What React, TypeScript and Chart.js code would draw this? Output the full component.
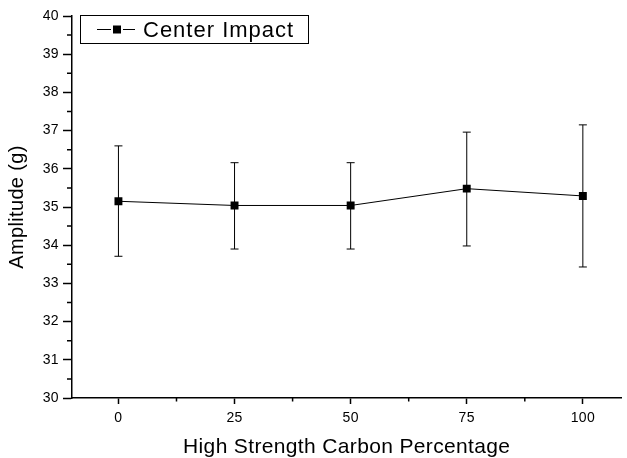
import React, { useEffect, useRef } from "react";
import { Chart, registerables } from "chart.js";

Chart.register(...registerables);

// ---- data ----
const SERIES_LABEL = "Center Impact";
const X_TITLE = "High Strength Carbon Percentage";
const Y_TITLE = "Amplitude (g)";
const carbonPct = [0, 25, 50, 75, 100];
const amplitude = [35.15, 35.04, 35.04, 35.48, 35.29];
const errLow = [33.71, 33.9, 33.9, 33.98, 33.43];
const errHigh = [36.6, 36.16, 36.16, 36.96, 37.15];
const xMajorTicks = [0, 25, 50, 75, 100];
const xMinorTicks = [12.5, 37.5, 62.5, 87.5];
const yMajorTicks = [30, 31, 32, 33, 34, 35, 36, 37, 38, 39, 40];
const yMinorTicks = [30.5, 31.5, 32.5, 33.5, 34.5, 35.5, 36.5, 37.5, 38.5, 39.5];
const X_MIN = -10;
const X_MAX = 108.3;
const Y_MIN = 30;
const Y_MAX = 40;

const FONT = "'Liberation Sans', Arial, Helvetica, sans-serif";

const decorPlugin = {
  id: "decor",
  beforeDraw(chart: any) {
    (chart.ctx as any).letterSpacing = "0.35px";
  },
  beforeDatasetsDraw(chart: any) {
    const ctx = chart.ctx;
    const xs = chart.scales.x;
    const ys = chart.scales.y;
    ctx.save();
    ctx.strokeStyle = "#000";
    ctx.lineWidth = 1;
    for (let i = 0; i < carbonPct.length; i++) {
      const px = xs.getPixelForValue(carbonPct[i]);
      const top = ys.getPixelForValue(errHigh[i]);
      const bot = ys.getPixelForValue(errLow[i]);
      ctx.beginPath();
      ctx.moveTo(px, top);
      ctx.lineTo(px, bot);
      ctx.moveTo(px - 4, top);
      ctx.lineTo(px + 4, top);
      ctx.moveTo(px - 4, bot);
      ctx.lineTo(px + 4, bot);
      ctx.stroke();
    }
    ctx.restore();
  },
  afterDraw(chart: any) {
    const ctx = chart.ctx;
    const xs = chart.scales.x;
    const ys = chart.scales.y;
    const area = chart.chartArea;
    ctx.save();
    ctx.strokeStyle = "#000";
    ctx.lineWidth = 1.5;
    // minor ticks
    ctx.beginPath();
    for (const v of xMinorTicks) {
      const px = xs.getPixelForValue(v);
      ctx.moveTo(px, area.bottom);
      ctx.lineTo(px, area.bottom + 3.5);
    }
    for (const v of yMinorTicks) {
      const py = ys.getPixelForValue(v);
      ctx.moveTo(area.left, py);
      ctx.lineTo(area.left - 5, py);
    }
    ctx.stroke();

    // legend box
    const bx = 80, by = 15, bw = 228, bh = 28;
    ctx.lineWidth = 1;
    ctx.strokeRect(bx + 0.5, by + 0.5, bw, bh);
    const cy = by + bh / 2 + 0.5;
    ctx.beginPath();
    ctx.moveTo(97, cy);
    ctx.lineTo(111, cy);
    ctx.moveTo(123, cy);
    ctx.lineTo(135, cy);
    ctx.stroke();
    ctx.fillStyle = "#000";
    ctx.fillRect(113, cy - 4, 8, 8);
    (ctx as any).letterSpacing = "1px";
    ctx.font = `22px ${FONT}`;
    ctx.textBaseline = "middle";
    ctx.textAlign = "left";
    ctx.fillText(chart.data.datasets[0].label, 143, cy + 1);
    ctx.restore();
  },
};

export default function App() {
  const canvasRef = useRef<HTMLCanvasElement | null>(null);

  useEffect(() => {
    if (!canvasRef.current) return;
    const chart = new Chart(canvasRef.current, {
      type: "scatter",
      data: {
        datasets: [
          {
            label: SERIES_LABEL,
            data: carbonPct.map((x, i) => ({ x, y: amplitude[i] })),
            showLine: true,
            borderColor: "#000",
            borderWidth: 1,
            pointStyle: "rect",
            pointRadius: 5.6,
            pointBackgroundColor: "#000",
            pointBorderColor: "#000",
            pointBorderWidth: 0,
          },
        ],
      },
      options: {
        responsive: false,
        animation: false,
        devicePixelRatio: 1,
        layout: { padding: { top: 16, right: 0, left: 0, bottom: 0 } },
        plugins: {
          legend: { display: false },
          tooltip: { enabled: false },
        },
        scales: {
          x: {
            type: "linear",
            min: X_MIN,
            max: X_MAX,
            afterBuildTicks: (scale: any) => {
              scale.ticks = xMajorTicks.map((v) => ({ value: v }));
            },
            afterFit: (scale: any) => {
              scale.height = 60;
              scale.paddingLeft = 0;
              scale.paddingRight = 0;
            },
            grid: {
              drawOnChartArea: false,
              tickLength: 6,
              tickColor: "#000",
              tickWidth: 1.5,
            },
            border: { display: true, color: "#000", width: 1.5 },
            ticks: {
              color: "#000",
              padding: 5.5,
              font: { family: FONT, size: 14 },
              maxRotation: 0,
              callback: (v: any) => String(v),
            },
            title: {
              display: true,
              text: X_TITLE,
              color: "#000",
              font: { family: FONT, size: 21, lineHeight: 1 },
              padding: { top: 0, bottom: 0 },
            },
          },
          y: {
            type: "linear",
            min: Y_MIN,
            max: Y_MAX,
            afterBuildTicks: (scale: any) => {
              scale.ticks = yMajorTicks.map((v) => ({ value: v }));
            },
            afterFit: (scale: any) => {
              scale.width = 72;
              scale.paddingTop = 0;
              scale.paddingBottom = 0;
            },
            grid: {
              drawOnChartArea: false,
              tickLength: 9,
              tickColor: "#000",
              tickWidth: 1.5,
            },
            border: { display: true, color: "#000", width: 1.5 },
            ticks: {
              color: "#000",
              padding: 4,
              font: { family: FONT, size: 14 },
              callback: (v: any) => String(v),
            },
            title: {
              display: true,
              text: Y_TITLE,
              color: "#000",
              font: { family: FONT, size: 20, lineHeight: 1.2 },
              padding: { top: 5, bottom: 0 },
            },
          },
        },
      },
      plugins: [decorPlugin],
    } as any);
    return () => chart.destroy();
  }, []);

  return (
    <div
      style={{
        position: "fixed",
        left: 0,
        top: 0,
        width: 627,
        height: 458,
        background: "#fff",
      }}
    >
      <canvas ref={canvasRef} width={627} height={458} style={{ display: "block" }} />
    </div>
  );
}
